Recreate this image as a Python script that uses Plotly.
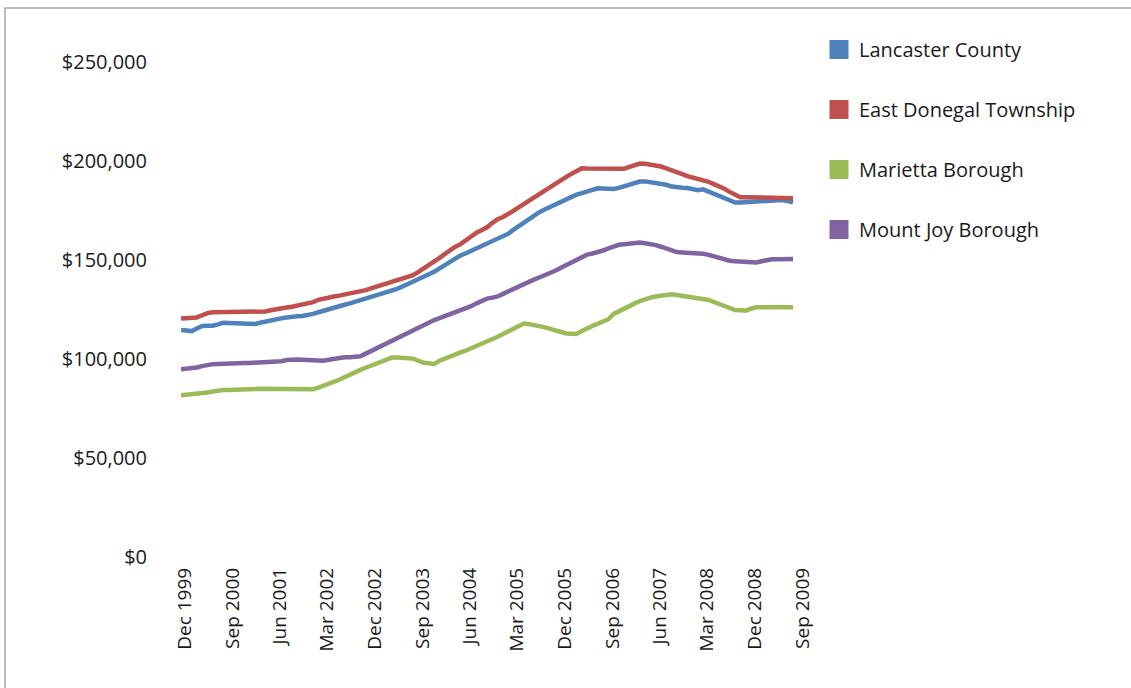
import pandas as pd
import plotly.graph_objects as go

# Monthly median prices (thousands of dollars), Dec 1999 - Aug 2009
months = pd.date_range("1999-12-01", periods=117, freq="MS")

lancaster_k = [
    114.6, 114.3, 114.1, 115.4, 116.7, 116.8, 116.8, 117.5, 118.3, 118.2,
    118.1, 118.0, 117.9, 117.8, 117.7, 118.3, 119.0, 119.5, 120.0, 120.5,
    121.0, 121.6, 121.6, 121.7, 122.1, 122.8, 123.6, 124.4, 125.1, 125.9,
    126.6, 127.4, 128.1, 128.9, 129.7, 130.4, 131.2, 131.9, 132.7, 133.4,
    134.2, 135.4, 136.6, 137.8, 139.0, 140.3, 141.6, 142.8, 144.1, 145.8,
    147.5, 149.2, 150.9, 152.3, 153.4, 154.6, 155.7, 156.9, 158.0, 159.2,
    160.3, 161.6, 163.3, 165.2, 167.1, 168.9, 170.8, 172.7, 174.3, 175.6,
    176.9, 178.3, 179.6, 180.9, 182.2, 183.0, 183.8, 184.6, 185.5, 186.2,
    186.1, 186.0, 185.9, 186.4, 187.2, 188.0, 188.8, 189.6, 189.7, 189.4,
    189.1, 188.8, 188.0, 187.1, 186.6, 186.5, 186.4, 185.6, 185.3, 185.7,
    184.5, 183.3, 182.4, 181.5, 180.2, 179.0, 179.1, 179.2, 179.3, 179.4,
    179.6, 179.8, 180.0, 180.2, 180.3, 179.8, 179.1,
]

east_donegal_k = [
    120.5, 120.5, 120.5, 121.0, 122.1, 123.2, 123.6, 123.6, 123.6, 123.6,
    123.6, 123.6, 123.6, 123.6, 123.6, 123.6, 124.0, 124.6, 125.2, 125.6,
    126.0, 126.4, 126.9, 127.3, 127.7, 128.7, 129.9, 130.6, 131.1, 131.6,
    132.0, 132.5, 133.0, 133.5, 134.0, 134.8, 135.7, 136.5, 137.3, 138.2,
    139.0, 139.8, 140.6, 141.5, 142.3, 144.0, 145.6, 147.2, 149.1, 151.1,
    153.1, 155.1, 156.7, 158.0, 160.0, 162.3, 163.8, 165.1, 166.5, 168.8,
    170.6, 171.7, 173.1, 174.8, 176.6, 178.3, 180.1, 182.0, 183.8, 185.7,
    187.3, 188.9, 190.4, 192.0, 193.6, 195.2, 196.3, 196.2, 196.2, 196.1,
    196.1, 196.0, 195.9, 195.8, 196.1, 197.0, 197.8, 198.7, 198.6, 198.3,
    198.0, 197.2, 196.3, 195.5, 194.5, 193.4, 192.4, 191.6, 191.1, 190.6,
    189.5, 188.3, 187.3, 186.0, 184.4, 182.8, 181.7, 181.7, 181.7, 181.7,
    181.7, 181.7, 181.6, 181.5, 181.4, 181.3, 181.2,
]

marietta_k = [
    81.7, 81.9, 82.1, 82.3, 82.6, 83.1, 83.6, 84.1, 84.3, 84.3,
    84.3, 84.3, 84.5, 84.6, 84.8, 85.0, 85.0, 85.0, 85.0, 85.0,
    85.0, 85.0, 85.0, 84.9, 84.8, 84.7, 85.5, 86.3, 87.2, 88.2,
    89.5, 90.8, 92.2, 93.4, 94.5, 95.6, 96.7, 97.8, 98.9, 100.0,
    100.7, 100.7, 100.7, 100.7, 100.2, 99.1, 98.1, 97.8, 97.5, 99.1,
    100.3, 101.3, 102.3, 103.3, 104.3, 105.4, 106.4, 107.5, 108.6, 109.8,
    111.2, 112.6, 114.0, 115.4, 116.9, 117.9, 117.6, 117.2, 116.7, 116.0,
    115.2, 114.5, 113.7, 112.9, 112.8, 112.6, 114.2, 115.6, 116.7, 117.8,
    118.8, 120.1, 122.8, 124.0, 125.6, 126.8, 128.1, 129.3, 130.4, 131.0,
    131.6, 131.9, 132.3, 132.7, 132.3, 131.9, 131.5, 131.1, 130.9, 130.7,
    129.8, 128.8, 127.8, 126.6, 125.3, 124.7, 124.6, 124.4, 125.4, 126.1,
    126.1, 126.1, 126.1, 126.1, 126.1, 126.1, 126.1,
]

mount_joy_k = [
    94.8, 95.0, 95.1, 95.7, 96.4, 97.0, 97.4, 97.5, 97.7, 97.8,
    97.9, 97.9, 98.0, 98.0, 98.1, 98.1, 98.2, 98.2, 98.3, 98.9,
    99.5, 99.8, 99.7, 99.6, 99.4, 99.3, 99.2, 99.1, 99.6, 100.2,
    100.8, 100.9, 100.9, 100.9, 101.4, 102.7, 104.0, 105.3, 106.6, 107.9,
    109.2, 110.6, 111.9, 113.3, 114.7, 116.1, 117.5, 118.7, 119.7, 120.6,
    121.6, 122.6, 123.5, 124.5, 125.6, 126.7, 128.1, 129.6, 130.5, 131.0,
    131.6, 132.9, 134.2, 135.6, 136.9, 138.2, 139.2, 140.2, 141.3, 142.3,
    143.3, 144.7, 146.1, 147.4, 148.8, 150.2, 151.6, 152.7, 153.3, 153.9,
    154.8, 155.9, 156.9, 157.7, 158.0, 158.3, 158.6, 158.8, 158.5, 158.2,
    157.5, 156.7, 155.8, 154.9, 154.0, 153.8, 153.7, 153.5, 153.3, 153.1,
    152.6, 151.8, 151.1, 150.4, 149.6, 149.4, 149.3, 149.1, 149.0, 148.8,
    149.4, 149.9, 150.4, 150.4, 150.4, 150.5, 150.5,
]

series_names = ["Lancaster County", "East Donegal Township", "Marietta Borough", "Mount Joy Borough"]
series_values = [lancaster_k, east_donegal_k, marietta_k, mount_joy_k]
series_colors = ["#4F81BD", "#C0504D", "#9BBB59", "#8064A2"]

x_tick_dates = pd.date_range("1999-12-01", "2009-09-01", freq="9MS")
x_tick_labels = [d.strftime("%b %Y") for d in x_tick_dates]
y_tick_vals = [0, 50, 100, 150, 200, 250]
y_tick_labels = ["$0", "$50,000", "$100,000", "$150,000", "$200,000", "$250,000"]

# layout geometry (pixels)
W_FIG, H_FIG = 1131, 688
L, R, T, B = 181, 316, 62, 131
W = W_FIG - L - R
H = H_FIG - T - B
px_per_day = 612 / (months[-1] - months[0]).days
x_end = months[0] + pd.Timedelta(days=W / px_per_day)
# rotated labels in the reference sit slightly right of their month
label_shift = pd.Timedelta(days=4 / px_per_day)

fig = go.Figure()
for name, vals, col in zip(series_names, series_values, series_colors):
    fig.add_trace(go.Scatter(
        x=months, y=vals, mode="lines", name=name,
        line=dict(color=col, width=4.5), showlegend=False,
    ))
    fig.add_trace(go.Scatter(
        x=[None], y=[None], mode="markers", name=name, legendgroup=name,
        marker=dict(symbol="square", size=20, color=col, line=dict(color=col, width=3)),
    ))

font_family = "Open Sans, Noto Sans, DejaVu Sans, sans-serif"
fig.update_layout(
    width=W_FIG, height=H_FIG,
    margin=dict(l=L, r=R, t=T, b=B, pad=0),
    paper_bgcolor="white", plot_bgcolor="white",
    font=dict(family=font_family, size=20, color="#1a1a1a"),
    legend=dict(
        x=(819 - L) / W, xanchor="left", y=1 + (T - 30) / H, yanchor="top",
        font=dict(size=20, color="#1a1a1a"), itemsizing="trace",
        tracegroupgap=31, bgcolor="rgba(0,0,0,0)",
    ),
    xaxis=dict(
        type="date", range=[months[0], x_end],
        tickmode="array", tickvals=[d + label_shift for d in x_tick_dates],
        ticktext=x_tick_labels,
        tickangle=-90, showgrid=False, zeroline=False, showline=False,
        ticks="", tickfont=dict(size=19), ticklabelstandoff=6,
    ),
    yaxis=dict(
        range=[0, 250], tickmode="array", tickvals=y_tick_vals, ticktext=y_tick_labels,
        showgrid=False, zeroline=False, showline=False, ticks="",
        tickfont=dict(size=20), ticklabelstandoff=33,
    ),
    shapes=[dict(
        type="rect", xref="paper", yref="paper",
        x0=(5 - L) / W, x1=(W_FIG + 20 - L) / W,
        y0=-(H_FIG + 20 - T - H) / H, y1=1 + (T - 8) / H,
        line=dict(color="#A6A6A6", width=1.5), fillcolor="rgba(0,0,0,0)",
        layer="below",
    )],
)

fig.write_html("out.html", config={"displayModeBar": False},
               post_script="document.body.style.margin='0';")
